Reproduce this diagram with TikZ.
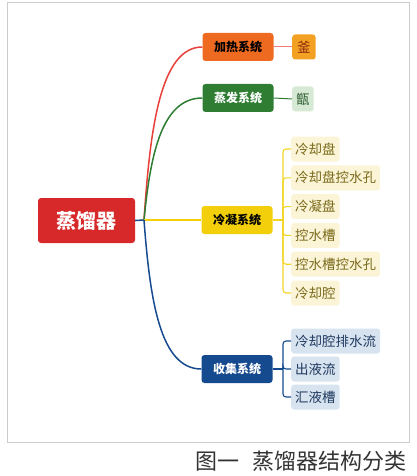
\documentclass[tikz,border=0pt]{standalone}
\usepackage{fontspec}
\setmainfont{Noto Sans CJK SC}
\usepackage{tikz}
\definecolor{rootred}{HTML}{D8292A}
\definecolor{heatorange}{HTML}{EE6A20}
\definecolor{heatline}{HTML}{E8403A}
\definecolor{fuorange}{HTML}{F2A122}
\definecolor{futext}{HTML}{8B2A10}
\definecolor{evapgreen}{HTML}{2E7D32}
\definecolor{zengbg}{HTML}{D6E9D5}
\definecolor{zengtext}{HTML}{2E5E30}
\definecolor{condyellow}{HTML}{F2CF0A}
\definecolor{condbg}{HTML}{FBF4D6}
\definecolor{condtext}{HTML}{7A6A1A}
\definecolor{collblue}{HTML}{164A8F}
\definecolor{collbg}{HTML}{D8E3F0}
\definecolor{colltext}{HTML}{1F3A5F}
\definecolor{framegray}{HTML}{CCCCCC}
\definecolor{captiongray}{HTML}{333333}

\begin{document}
\begin{tikzpicture}[x=1pt,y=-1pt,
    sysbox/.style={rounded corners=3pt, minimum width=71pt, minimum height=28pt, inner sep=2pt,
      font=\fontsize{12}{12}\selectfont\bfseries},
    leafbox/.style={rounded corners=3pt, anchor=west, minimum height=25pt, inner xsep=4pt,
      font=\fontsize{13.5}{14}\selectfont},
    link/.style={line width=1.5pt},
    twig/.style={line width=1.1pt, rounded corners=3pt}]
  \useasboundingbox (0,0) rectangle (416,476);
  \draw[framegray, line width=0.8pt] (7,2) rectangle (409,442);

  \node[fill=rootred, text=white, rounded corners=3pt, minimum width=97pt, minimum height=45pt,
    font=\fontsize{20}{20}\selectfont\bfseries] (root) at (86.5,220.5) {蒸馏器};
  \coordinate (hub) at (144,220);

  \node[sysbox, fill=heatorange, text=black] (heat) at (238,47) {加热系统};
  \node[sysbox, fill=evapgreen, text=white] (evap) at (238,98) {蒸发系统};
  \node[sysbox, fill=condyellow, text=black] (cond) at (237,220) {冷凝系统};
  \node[sysbox, fill=collblue, text=white] (coll) at (237,369) {收集系统};

  \draw[link, collblue] (root.east) -- (hub);
  \draw[link, heatline] (hub) .. controls (150,130) and (160,47) .. (heat.west);
  \draw[link, evapgreen] (hub) .. controls (150,160) and (160,98) .. (evap.west);
  \draw[link, condyellow] (hub) -- (cond.west);
  \draw[link, collblue] (hub) .. controls (150,300) and (160,369) .. (coll.west);

  \node[leafbox, fill=fuorange, text=futext, inner xsep=5pt] (fu) at (292,47) {釜};
  \node[leafbox, fill=zengbg, text=zengtext] (zeng) at (292,99) {甑};
  \draw[line width=1pt, heatline!70] (heat.east) -- (fu.west);
  \draw[line width=1pt, evapgreen] (evap.east) -- (zeng.west);

  \coordinate (condhub) at (283,220);
  \draw[twig, condyellow!90] (cond.east) -- (condhub);
  \foreach \t [count=\i] in {冷却盘,冷却盘控水孔,冷凝盘,控水槽,控水槽控水孔,冷却腔}{
    \node[leafbox, fill=condbg, text=condtext] (c\i) at (291,120.2+28.8*\i) {\t};
    \draw[twig, condyellow!90] (condhub) |- (c\i.west);
  }

  \coordinate (collhub) at (283,369);
  \draw[twig, collblue] (coll.east) -- (collhub);
  \foreach \t [count=\i] in {冷却腔排水流,出液流,汇液槽}{
    \node[leafbox, fill=collbg, text=colltext] (s\i) at (291,313+28*\i) {\t};
    \draw[twig, collblue] (collhub) |- (s\i.west);
  }

  \node[anchor=east, text=captiongray, font=\fontsize{22}{22}\selectfont] (caption) at (410,461)
    {图一\hspace{0.6em}蒸馏器结构分类};
\end{tikzpicture}
\end{document}
